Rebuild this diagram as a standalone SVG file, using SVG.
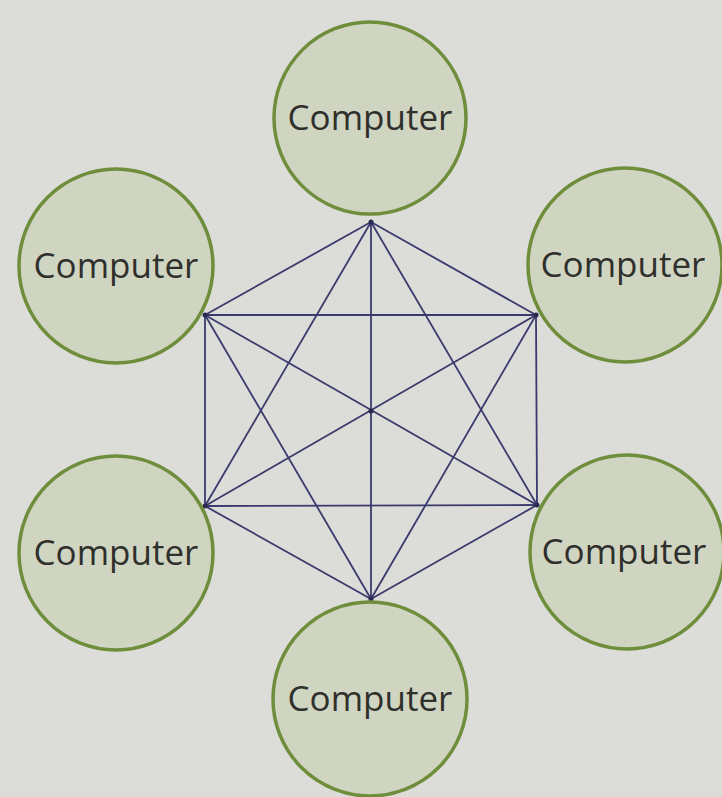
<svg xmlns="http://www.w3.org/2000/svg" width="722" height="797" viewBox="0 0 722 797">
<style>
.node circle{fill:#d0d5c2;stroke:#6e8e3c;stroke-width:3.5}
.node text{font-family:"Open Sans","Noto Sans",sans-serif;font-size:35px;fill:#2f302c;text-anchor:middle}
#links line{stroke:#3a3a6e;stroke-width:1.8}
#links circle{fill:#2a2a50}
</style>
<rect width="722" height="797" fill="#dcdcd8"/>
<g id="links">
<line x1="371" y1="222" x2="205" y2="315"/>
<line x1="371" y1="222" x2="536" y2="315"/>
<line x1="371" y1="222" x2="205" y2="506"/>
<line x1="371" y1="222" x2="537" y2="505"/>
<line x1="371" y1="222" x2="371" y2="599"/>
<line x1="205" y1="315" x2="536" y2="315"/>
<line x1="205" y1="315" x2="205" y2="506"/>
<line x1="205" y1="315" x2="537" y2="505"/>
<line x1="205" y1="315" x2="371" y2="599"/>
<line x1="536" y1="315" x2="205" y2="506"/>
<line x1="536" y1="315" x2="537" y2="505"/>
<line x1="536" y1="315" x2="371" y2="599"/>
<line x1="205" y1="506" x2="537" y2="505"/>
<line x1="205" y1="506" x2="371" y2="599"/>
<line x1="537" y1="505" x2="371" y2="599"/>
<circle cx="371" cy="222" r="2.5"/>
<circle cx="205" cy="315" r="2.5"/>
<circle cx="536" cy="315" r="2.5"/>
<circle cx="205" cy="506" r="2.5"/>
<circle cx="537" cy="505" r="2.5"/>
<circle cx="371" cy="599" r="2.5"/>
<circle cx="371" cy="411" r="2.5"/>
</g>
<g id="n-top" class="node"><circle cx="370" cy="118" r="96"/><text x="370" y="130">Computer</text></g>
<g id="n-ul" class="node"><circle cx="116" cy="266" r="97"/><text x="116" y="278">Computer</text></g>
<g id="n-ur" class="node"><circle cx="625" cy="265" r="97"/><text x="623" y="277">Computer</text></g>
<g id="n-ll" class="node"><circle cx="116" cy="553" r="97"/><text x="116" y="565">Computer</text></g>
<g id="n-lr" class="node"><circle cx="627" cy="552" r="97"/><text x="624" y="564">Computer</text></g>
<g id="n-bottom" class="node"><circle cx="370" cy="699" r="97"/><text x="370" y="711">Computer</text></g>
</svg>
